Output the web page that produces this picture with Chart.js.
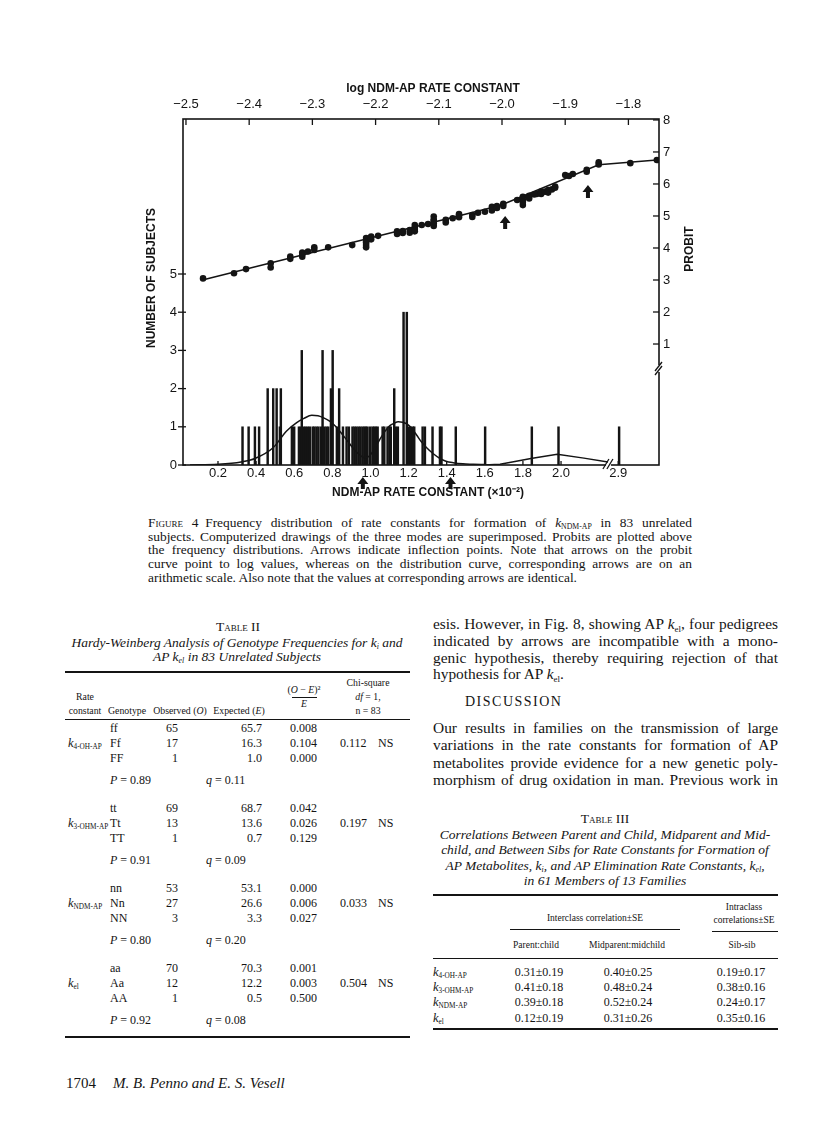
<!DOCTYPE html>
<html><head><meta charset="utf-8">
<script src="https://cdn.jsdelivr.net/npm/chart.js@4.4.1/dist/chart.umd.min.js"></script>
<style>
html,body{margin:0;padding:0;background:#fff;}
#page{position:relative;width:816px;height:1127px;overflow:hidden;color:#141414;font-family:'Liberation Serif','Times New Roman',serif;}
#c{position:absolute;left:0;top:0;}
.t{position:absolute;white-space:nowrap;}
.rule{position:absolute;background:#141414;}
sub{font-size:0.58em;vertical-align:-0.28em;line-height:0;}
.sc{font-variant:small-caps;}
</style></head>
<body><div id="page"><canvas id="c" width="816" height="510"></canvas></div>
<script>
// ================= DATA =================
// top axis: log NDM-AP rate constant ; right axis: probit
const topTicks = [-2.5, -2.4, -2.3, -2.2, -2.1, -2.0, -1.9, -1.8];
const rightTicks = [1, 2, 3, 4, 5, 6, 7, 8];
const leftTicks = [0, 1, 2, 3, 4, 5];
const bottomTicks = [0.2, 0.4, 0.6, 0.8, 1.0, 1.2, 1.4, 1.6, 1.8, 2.0, 2.9];

const probitLog = [-2.473,-2.424,-2.405,-2.366,-2.366,-2.335,-2.335,-2.316,-2.316,-2.316,-2.307,-2.297,-2.297,-2.275,-2.237,
 -2.215,-2.215,-2.215,-2.215,-2.215,-2.207,-2.207,-2.196,-2.166,-2.166,-2.157,-2.157,-2.146,-2.146,-2.138,-2.138,-2.138,-2.138,
 -2.127,-2.117,-2.108,-2.108,-2.108,-2.108,-2.108,-2.089,-2.089,-2.078,-2.068,-2.068,-2.068,-2.047,-2.047,-2.038,-2.027,
 -2.016,-2.016,-2.008,-2.008,-1.998,-1.998,-1.976,-1.967,-1.967,-1.967,-1.967,-1.957,-1.957,-1.949,-1.945,-1.938,-1.938,-1.938,
 -1.932,-1.927,-1.927,-1.921,-1.916,-1.916,-1.900,-1.894,-1.888,-1.866,-1.866,-1.847,-1.847,-1.797,-1.755];
const probitValue = [3.05,3.21,3.34,3.52,3.39,3.73,3.66,3.86,3.73,3.81,3.89,4.02,3.94,4.02,4.09,
 4.31,4.20,4.09,4.02,4.16,4.36,4.27,4.38,4.52,4.44,4.47,4.53,4.48,4.56,4.52,4.63,4.72,4.56,
 4.72,4.75,4.98,4.88,4.77,4.69,4.84,4.88,4.80,4.93,5.06,4.96,5.02,5.03,4.97,5.10,5.13,
 5.29,5.17,5.31,5.25,5.38,5.31,5.50,5.60,5.50,5.34,5.44,5.63,5.55,5.67,5.69,5.76,5.69,5.72,
 5.76,5.81,5.73,5.83,5.92,5.88,6.28,6.25,6.31,6.44,6.38,6.68,6.61,6.65,6.75];
const probitFitLog = [-2.474, -2.003, -1.847, -1.755];
const probitFitValue = [3.0, 5.33, 6.60, 6.75];
const probitArrowLog = [-1.995, -1.864];
const probitArrowTip = [5.0, 5.97];

// bottom axis: NDM-AP rate constant (x10^-2) ; left axis: number of subjects
const histRate = [0.324,0.356,0.389,0.411,0.456,0.485,0.503,0.520,0.525,0.583,0.595,0.620,0.630,0.635,0.646,0.656,0.667,0.677,
 0.692,0.701,0.712,0.722,0.735,0.744,0.753,0.764,0.774,0.788,0.797,0.819,0.831,0.851,0.870,0.882,
 0.901,0.911,0.921,0.932,0.942,0.953,0.963,0.971,0.980,0.994,1.006,1.015,1.024,1.033,1.059,1.068,1.085,1.095,1.102,
 1.120,1.129,1.139,1.169,1.186,1.197,1.207,1.218,1.225,1.269,1.281,1.321,1.360,1.368,1.443,1.597,1.842,1.982,2.9];
const histCount = [1,1,1,1,2,2,2,1,2,1,1,1,1,3,1,1,1,1,
 1,1,1,1,1,3,1,1,1,2,3,1,2,1,1,1,
 1,1,1,1,1,1,1,1,1,1,1,1,1,1,1,1,1,1,1,
 2,1,1,4,4,1,1,1,1,1,1,1,1,1,1,1,1,1,1];
const modeRate = [0.053,0.2,0.321,0.394,0.489,0.560,0.613,0.651,0.692,0.725,0.752,0.788,0.823,0.856,0.884,0.919,0.955,0.971,
 0.997,1.024,1.050,1.076,1.102,1.123,1.146,1.168,1.190,1.213,1.243,1.265,1.295,1.328,1.365,1.396,1.434,1.485,1.539,1.596];
const modeCount = [0.0,0.02,0.08,0.17,0.45,0.89,1.11,1.22,1.30,1.29,1.24,1.14,0.98,0.78,0.60,0.38,0.22,0.18,
 0.25,0.45,0.68,0.88,1.03,1.09,1.13,1.12,1.08,0.98,0.78,0.62,0.45,0.30,0.17,0.10,0.06,0.03,0.02,0.01];
const mode3Rate = [1.596,1.680,1.758,1.842,1.980,2.120,2.246];
const mode3Count = [0.0,0.02,0.09,0.17,0.28,0.18,0.08];
const rateArrows = [0.96, 1.42];
const RATE_BREAK = 2.246, RATE_SKIP_FROM = 2.5, RATE_SKIP = 0.6, PROBIT_BREAK = 0.25;

// ================= CHART =================
const INK = '#141414';
const SANS = "'Liberation Sans', Arial, sans-serif";

class BrokenLinearScale extends Chart.LinearScale {
  getPixelForValue(value, index) {
    const v = value > RATE_SKIP_FROM ? value - RATE_SKIP : value;
    return super.getPixelForValue(v, index);
  }
}
BrokenLinearScale.id = 'brokenLinear';
BrokenLinearScale.defaults = Chart.LinearScale.defaults;
Chart.register(BrokenLinearScale);

const fmt = v => (v < 0 ? '\u2212' : '') + Math.abs(v).toFixed(1);
const tickFont = {family: SANS, size: 13};

const decor = {
  id: 'decor',
  afterDraw(chart) {
    const {ctx, chartArea: a, scales: s} = chart;
    const L = a.left, R = a.right, T = a.top, B = a.bottom;
    ctx.save();
    ctx.strokeStyle = INK; ctx.fillStyle = INK;
    const seg = (x1, y1, x2, y2) => { ctx.beginPath(); ctx.moveTo(x1, y1); ctx.lineTo(x2, y2); ctx.stroke(); };
    ctx.lineWidth = 1.6;
    ctx.strokeRect(L, T, R - L, B - T);
    ctx.lineWidth = 1.3;
    topTicks.forEach(v => { const x = s.xt.getPixelForValue(v); seg(x, T, x, T + 6); });
    rightTicks.forEach(v => { const y = s.yr.getPixelForValue(v); seg(R - 6, y, R, y); });
    leftTicks.forEach(v => { const y = s.yl.getPixelForValue(v); seg(L - 5, y, L + 3, y); });
    bottomTicks.forEach(v => { const x = s.xb.getPixelForValue(v); seg(x, B, x, B - 4); });
    // axis breaks
    const yb = s.yr.getPixelForValue(PROBIT_BREAK);
    ctx.fillStyle = '#fff'; ctx.fillRect(R - 2, yb - 3, 4, 7); ctx.fillStyle = INK;
    seg(R - 4, yb + 3, R + 3, yb - 6); seg(R - 4, yb + 7, R + 3, yb - 2);
    const xbk = s.xb.getPixelForValue(RATE_BREAK);
    ctx.fillStyle = '#fff'; ctx.fillRect(xbk - 2, B - 2, 5, 4); ctx.fillStyle = INK;
    seg(xbk - 5, B + 4, xbk + 1, B - 6); seg(xbk - 1, B + 4, xbk + 5, B - 6);
    // arrows
    const arrow = (x, yTip, len) => {
      ctx.beginPath(); ctx.moveTo(x, yTip); ctx.lineTo(x + 5.5, yTip + 7); ctx.lineTo(x + 2, yTip + 7);
      ctx.lineTo(x + 2, yTip + len); ctx.lineTo(x - 2, yTip + len); ctx.lineTo(x - 2, yTip + 7);
      ctx.lineTo(x - 5.5, yTip + 7); ctx.closePath(); ctx.fill();
    };
    probitArrowLog.forEach((v, i) => arrow(s.xt.getPixelForValue(v), s.yr.getPixelForValue(probitArrowTip[i]), 13));
    rateArrows.forEach(v => arrow(s.xb.getPixelForValue(v), B + 12, 12));
    // titles
    ctx.font = 'bold 12px ' + SANS; ctx.textAlign = 'center'; ctx.textBaseline = 'middle';
    ctx.fillText('log NDM-AP RATE CONSTANT', 433, 89);
    ctx.fillText('NDM-AP RATE CONSTANT (\u00d710\u207b\u00b2)', 428, 493);
    ctx.save(); ctx.translate(152, 278); ctx.rotate(-Math.PI / 2); ctx.fillText('NUMBER OF SUBJECTS', 0, 0); ctx.restore();
    ctx.save(); ctx.translate(690, 249); ctx.rotate(-Math.PI / 2); ctx.fillText('PROBIT', 0, 0); ctx.restore();
    ctx.restore();
  }
};

const noGrid = {display: false, drawTicks: false, offset: false};
new Chart(document.getElementById('c'), {
  type: 'scatter',
  data: {datasets: [
    {type: 'scatter', data: probitLog.map((x, i) => ({x, y: probitValue[i]})), xAxisID: 'xt', yAxisID: 'yr',
     pointRadius: 3.3, pointBackgroundColor: INK, pointBorderWidth: 0, order: 0},
    {type: 'line', data: probitFitLog.map((x, i) => ({x, y: probitFitValue[i]})), xAxisID: 'xt', yAxisID: 'yr',
     borderColor: INK, borderWidth: 1.6, pointRadius: 0, tension: 0, order: 1},
    {type: 'line', data: modeRate.map((x, i) => ({x, y: modeCount[i]})), xAxisID: 'xb', yAxisID: 'yl',
     borderColor: INK, borderWidth: 1.5, pointRadius: 0, cubicInterpolationMode: 'monotone', order: 2},
    {type: 'line', data: mode3Rate.map((x, i) => ({x, y: mode3Count[i]})), xAxisID: 'xb', yAxisID: 'yl',
     borderColor: INK, borderWidth: 1.5, pointRadius: 0, tension: 0, order: 2},
    {type: 'bar', data: histRate.map((x, i) => ({x, y: histCount[i]})), xAxisID: 'xb', yAxisID: 'yl',
     backgroundColor: INK, barThickness: 1.8, borderWidth: 0, order: 3}
  ]},
  options: {
    responsive: false, animation: false, events: [], devicePixelRatio: 1,
    layout: {padding: 0, autoPadding: false},
    plugins: {legend: {display: false}, tooltip: {enabled: false}},
    scales: {
      xt: {type: 'linear', axis: 'x', position: 'top', offset: false, min: -2.5047, max: -1.7516, grid: noGrid, border: {display: false},
           afterBuildTicks: sc => { sc.ticks = topTicks.map(v => ({value: v})); },
           afterFit: sc => { sc.height = 119; },
           ticks: {autoSkip: false, maxRotation: 0, padding: 7, color: INK, font: tickFont, callback: v => fmt(v)}},
      xb: {type: 'brokenLinear', axis: 'x', position: 'bottom', offset: false, min: 0.0164, max: 2.514, grid: noGrid, border: {display: false},
           afterBuildTicks: sc => { sc.ticks = bottomTicks.map(v => ({value: v})); },
           afterFit: sc => { sc.height = 45; },
           ticks: {autoSkip: false, maxRotation: 0, padding: 0.5, color: INK, font: tickFont, callback: v => v.toFixed(1)}},
      yl: {type: 'linear', axis: 'y', position: 'left', offset: false, min: 0, max: 9.058, grid: noGrid, border: {display: false},
           afterBuildTicks: sc => { sc.ticks = leftTicks.map(v => ({value: v})); },
           afterFit: sc => { sc.width = 183; },
           ticks: {autoSkip: false, padding: 6, color: INK, font: tickFont, callback: v => String(v)}},
      yr: {type: 'linear', axis: 'y', position: 'right', offset: false, min: -2.78, max: 8.03, grid: noGrid, border: {display: false},
           afterBuildTicks: sc => { sc.ticks = rightTicks.map(v => ({value: v})); },
           afterFit: sc => { sc.width = 157; },
           ticks: {autoSkip: false, padding: 4, color: INK, font: tickFont, callback: v => String(v)}}
    }
  },
  plugins: [decor]
});

// ================= PAGE TEXT =================
const page = document.getElementById('page');
function mk(html, size, o) {
  const d = document.createElement('div'); d.className = 't'; d.innerHTML = html;
  d.style.fontSize = size + 'px'; d.style.lineHeight = (size * 1.2) + 'px';
  if (o.italic) d.style.fontStyle = 'italic';
  if (o.bold) d.style.fontWeight = 'bold';
  if (o.sc) d.style.fontVariant = 'small-caps';
  if (o.ls) d.style.letterSpacing = o.ls + 'px';
  page.appendChild(d); return d;
}
function T(html, x, y, size, o = {}) {
  const d = mk(html, size, o);
  const w = d.getBoundingClientRect().width;
  let l = x; if (o.align === 'center') l = x - w / 2; else if (o.align === 'right') l = x - w;
  d.style.left = l + 'px'; d.style.top = (y - size * 0.6) + 'px';
  return d;
}
function P(lines, x, ys, width, base, o = {}) {
  const els = lines.map(h => mk(h.replace(/^\*/, ''), base, o));
  let sc = 1;
  els.forEach(d => { sc = Math.min(sc, width / d.getBoundingClientRect().width); });
  const size = base * sc * 0.995;
  els.forEach((d, i) => {
    d.style.fontSize = size + 'px'; d.style.lineHeight = (size * 1.2) + 'px';
    d.style.left = x + 'px'; d.style.top = (ys[i] - size * 0.6) + 'px';
    if (!lines[i].startsWith('*')) { d.style.whiteSpace = 'normal'; d.style.width = width + 'px'; d.style.textAlign = 'justify'; d.style.textAlignLast = 'justify'; }
  });
}
function PC(lines, cx, ys, maxW, base, o = {}) {
  const els = lines.map(h => mk(h, base, o));
  const wmax = Math.max(...els.map(d => d.getBoundingClientRect().width));
  const size = base * Math.min(1, maxW / wmax);
  els.forEach((d, i) => {
    d.style.fontSize = size + 'px'; d.style.lineHeight = (size * 1.2) + 'px';
    const w = d.getBoundingClientRect().width;
    d.style.left = (cx - w / 2) + 'px'; d.style.top = (ys[i] - size * 0.6) + 'px';
  });
}
function RL(x1, x2, y, h) {
  const d = document.createElement('div'); d.className = 'rule';
  d.style.left = x1 + 'px'; d.style.width = (x2 - x1) + 'px'; d.style.top = (y - h / 2) + 'px'; d.style.height = h + 'px';
  page.appendChild(d);
}
const k = s => '<i>k</i><sub>' + s + '</sub>';

// Figure caption
P(['<span class="sc">Figure</span> 4&ensp;Frequency distribution of rate constants for formation of ' + k('NDM-AP') + ' in 83 unrelated',
   'subjects. Computerized drawings of the three modes are superimposed. Probits are plotted above',
   'the frequency distributions. Arrows indicate inflection points. Note that arrows on the probit',
   'curve point to log values, whereas on the distribution curve, corresponding arrows are on an',
   '*arithmetic scale. Also note that the values at corresponding arrows are identical.'],
  148, [523, 537, 550.5, 564.5, 578], 544, 13.5);

// Table II
T('Table II', 238, 627, 13.5, {sc: true, align: 'center'});
PC(['Hardy-Weinberg Analysis of Genotype Frequencies for ' + k('i') + ' and',
    'AP ' + k('el') + ' in 83 Unrelated Subjects'], 237, [643, 657], 340, 13.5, {italic: true});
RL(65, 410, 672, 2.2);
const hs = 9.8;
T('Chi-square', 368, 683, hs, {align: 'center'});
T('<i>df</i> = 1,', 368, 697, hs, {align: 'center'});
T('n = 83', 368, 711, hs, {align: 'center'});
T('Rate', 85, 697, hs, {align: 'center'});
T('constant', 85, 711, hs, {align: 'center'});
T('Genotype', 108, 711, hs);
T('Observed (<i>O</i>)', 180, 711, hs, {align: 'center'});
T('Expected (<i>E</i>)', 239, 711, hs, {align: 'center'});
T('(<i>O</i> \u2212 <i>E</i>)\u00b2', 304, 690, hs, {align: 'center'});
RL(292, 317, 697, 0.8);
T('<i>E</i>', 304, 704, hs, {align: 'center'});
RL(65, 410, 719, 1);
const t2Blocks = [
  {k: '4-OH-AP', g: ['ff', 'Ff', 'FF'], o: ['65', '17', '1'], e: ['65.7', '16.3', '1.0'], r: ['0.008', '0.104', '0.000'], chi: '0.112', p: '0.89', q: '0.11', y: 728},
  {k: '3-OHM-AP', g: ['tt', 'Tt', 'TT'], o: ['69', '13', '1'], e: ['68.7', '13.6', '0.7'], r: ['0.042', '0.026', '0.129'], chi: '0.197', p: '0.91', q: '0.09', y: 808},
  {k: 'NDM-AP', g: ['nn', 'Nn', 'NN'], o: ['53', '27', '3'], e: ['53.1', '26.6', '3.3'], r: ['0.000', '0.006', '0.027'], chi: '0.033', p: '0.80', q: '0.20', y: 888},
  {k: 'el', g: ['aa', 'Aa', 'AA'], o: ['70', '12', '1'], e: ['70.3', '12.2', '0.5'], r: ['0.001', '0.003', '0.500'], chi: '0.504', p: '0.92', q: '0.08', y: 968}
];
const ts = 12;
t2Blocks.forEach(b => {
  T(k(b.k), 68, b.y + 15, 12.5);
  b.g.forEach((g, i) => {
    const y = b.y + i * 15;
    T(g, 110, y, ts);
    T(b.o[i], 178, y, ts, {align: 'right'});
    T(b.e[i], 262, y, ts, {align: 'right'});
    T(b.r[i], 290, y, ts);
  });
  T(b.chi, 340, b.y + 15, ts);
  T('NS', 378, b.y + 15, ts);
  T('<i>P</i> = ' + b.p, 110, b.y + 52.5, ts);
  T('<i>q</i> = ' + b.q, 206, b.y + 52.5, ts);
});
RL(65, 410, 1037, 2.2);
T('1704', 66, 1083, 15);
T('<i>M. B. Penno and E. S. Vesell</i>', 113, 1083, 15);

// Right column text
P(['esis. However, in Fig. 8, showing AP ' + k('el') + ', four pedigrees',
   'indicated by arrows are incompatible with a mono-',
   'genic hypothesis, thereby requiring rejection of that',
   '*hypothesis for AP ' + k('el') + '.',
   'Our results in families on the transmission of large',
   'variations in the rate constants for formation of AP',
   'metabolites provide evidence for a new genetic poly-',
   'morphism of drug oxidation in man. Previous work in'],
  433, [624, 641, 658, 674.5, 728, 745.5, 763, 780], 345, 15.5);
T('DISCUSSION', 465, 702, 14, {ls: 1.5});

// Table III
T('Table III', 605, 819, 13.5, {sc: true, align: 'center'});
PC(['Correlations Between Parent and Child, Midparent and Mid-',
    'child, and Between Sibs for Rate Constants for Formation of',
    'AP Metabolites, ' + k('i') + ', and AP Elimination Rate Constants, ' + k('el') + ',',
    'in 61 Members of 13 Families'], 605, [835, 850.5, 866, 881.5], 336, 13.5, {italic: true});
RL(433, 778, 895, 2.2);
T('Intraclass', 744, 908, 9.5, {align: 'center'});
T('Interclass correlation\u00b1SE', 595, 919, 9.5, {align: 'center'});
T('correlations\u00b1SE', 744, 921, 9.5, {align: 'center'});
RL(510, 680, 929, 1);
RL(712, 778, 931, 1);
T('Parent:child', 536, 946, 9.5, {align: 'center'});
T('Midparent:midchild', 627, 946, 9.5, {align: 'center'});
T('Sib-sib', 742, 946, 9.5, {align: 'center'});
RL(433, 778, 958, 1);
const t3Rows = [
  ['4-OH-AP', '0.31\u00b10.19', '0.40\u00b10.25', '0.19\u00b10.17'],
  ['3-OHM-AP', '0.41\u00b10.18', '0.48\u00b10.24', '0.38\u00b10.16'],
  ['NDM-AP', '0.39\u00b10.18', '0.52\u00b10.24', '0.24\u00b10.17'],
  ['el', '0.12\u00b10.19', '0.31\u00b10.26', '0.35\u00b10.16']
];
const t3Y = [972, 987, 1002.5, 1018];
t3Rows.forEach((r, i) => {
  T(k(r[0]), 433, t3Y[i], 12.5);
  T(r[1], 539, t3Y[i], ts, {align: 'center'});
  T(r[2], 628, t3Y[i], ts, {align: 'center'});
  T(r[3], 741, t3Y[i], ts, {align: 'center'});
});
RL(433, 778, 1029, 2.2);
</script></body></html>
